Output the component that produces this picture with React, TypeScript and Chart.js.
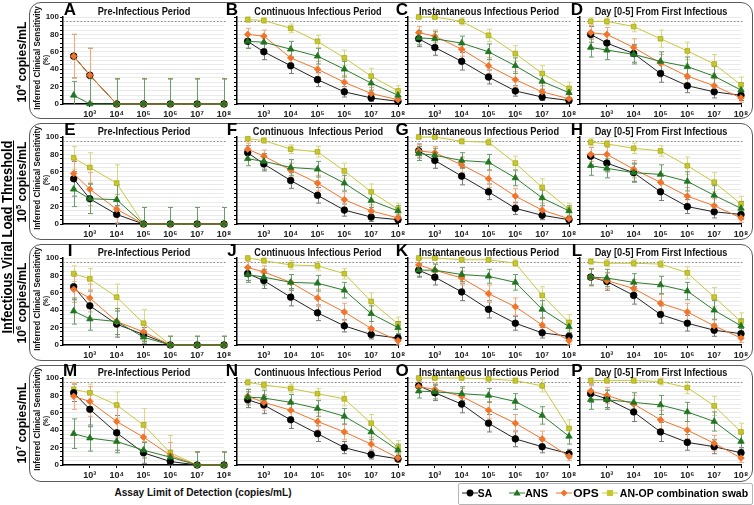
import React, { useEffect, useLayoutEffect, useRef } from 'react';
import { Chart, registerables } from 'chart.js';
Chart.register(...registerables);

// ---------- data ----------
const assayLOD = [250, 1e3, 1e4, 1e5, 1e6, 1e7, 1e8];
const xTickValues = [1e3, 1e4, 1e5, 1e6, 1e7, 1e8];
const xTickLabels = ['10³', '10⁴', '10⁵', '10⁶', '10⁷', '10⁸'];
const yTickLabels = [0, 20, 40, 60, 80, 100];
const seriesNames = ['SA', 'ANS', 'OPS', 'AN-OP combination swab'];
const rowExponents = ['4', '5', '6', '7'];
const periodTitles = [
  'Pre-Infectious Period',
  'Continuous Infectious Period',
  'Instantaneous Infectious Period',
  'Day [0-5] From First Infectious',
];
const panelLetters = ['A', 'B', 'C', 'D', 'E', 'F', 'G', 'H', 'I', 'J', 'K', 'L', 'M', 'N', 'O', 'P'];

// values per panel: [SA, ANS, OPS, AN-OP]
const A_vals = [[55, 33, 0, 0, 0, 0, 0], [10, 0, 0, 0, 0, 0, 0], [55, 33, 0, 0, 0, 0, 0], [55, 33, 0, 0, 0, 0, 0]];
const B_vals = [[72, 60, 44, 28, 14, 7, 3], [72, 71, 63, 55, 40, 24, 10], [80, 78, 53, 40, 25, 12, 5], [97, 96, 87, 72, 53, 32, 15]];
const C_vals = [[75, 65, 49, 31, 15, 8, 4], [76, 75, 70, 60, 44, 26, 13], [82, 78, 63, 44, 28, 14, 6], [100, 100, 95, 79, 58, 35, 18]];
const D_vals = [[80, 70, 58, 35, 21, 14, 10], [65, 62, 57, 49, 43, 32, 16], [82, 80, 65, 47, 32, 21, 7], [95, 95, 89, 75, 61, 46, 22]];
const E_vals = [[52, 29, 11, 0, 0, 0, 0], [40, 29, 28, 0, 0, 0, 0], [58, 40, 17, 0, 0, 0, 0], [76, 65, 47, 0, 0, 0, 0]];
const F_vals = [[82, 69, 50, 33, 16, 8, 5], [75, 72, 65, 63, 47, 27, 15], [86, 78, 62, 47, 28, 15, 7], [98, 96, 86, 83, 61, 37, 17]];
const G_vals = [[84, 73, 55, 37, 18, 10, 5], [81, 79, 73, 71, 53, 30, 15], [84, 82, 68, 52, 32, 16, 6], [100, 100, 95, 94, 70, 42, 17]];
const H_vals = [[78, 70, 59, 37, 20, 14, 11], [67, 64, 59, 57, 49, 33, 18], [80, 80, 63, 48, 32, 21, 7], [94, 92, 87, 84, 67, 48, 23]];
const I_vals = [[67, 45, 24, 12, 0, 0, 0], [39, 30, 27, 9, 0, 0, 0], [64, 54, 27, 15, 0, 0, 0], [82, 76, 55, 25, 0, 0, 0]];
const J_vals = [[82, 74, 55, 37, 22, 12, 8], [81, 78, 72, 71, 63, 36, 20], [89, 84, 72, 54, 38, 19, 5], [100, 97, 92, 91, 82, 50, 24]];
const K_vals = [[86, 78, 61, 41, 25, 14, 10], [86, 86, 81, 79, 72, 41, 21], [92, 86, 77, 59, 44, 23, 5], [100, 100, 98, 98, 94, 57, 26]];
const L_vals = [[78, 73, 57, 35, 25, 17, 13], [78, 77, 72, 69, 62, 40, 22], [78, 74, 65, 48, 38, 22, 8], [96, 94, 94, 93, 83, 55, 27]];
const M_vals = [[83, 64, 37, 14, 4, 0, 0], [36, 31, 27, 17, 9, 0, 0], [79, 73, 50, 32, 11, 0, 0], [87, 83, 69, 46, 14, 0, 0]];
const N_vals = [[75, 69, 52, 36, 20, 12, 7], [78, 77, 72, 65, 56, 38, 17], [79, 72, 63, 50, 38, 24, 8], [95, 92, 88, 82, 76, 48, 20]];
const O_vals = [[91, 83, 70, 48, 30, 21, 13], [85, 84, 82, 80, 73, 57, 33], [90, 87, 79, 63, 48, 30, 10], [100, 100, 100, 99, 97, 91, 42]];
const P_vals = [[82, 76, 61, 38, 26, 21, 14], [75, 75, 72, 69, 61, 50, 27], [85, 80, 70, 52, 40, 25, 8], [97, 97, 97, 96, 89, 68, 38]];

// error half-widths per panel: [SA, ANS, OPS, AN-OP]
const A_errs = [[25, 31, 29, 29, 29, 29, 29], [16, 29, 29, 29, 29, 29, 29], [25, 31, 29, 29, 29, 29, 29], [25, 31, 29, 29, 29, 29, 29]];
const B_errs = [[8, 9, 9, 8, 6, 4, 3], [8, 8, 9, 9, 9, 8, 5], [7, 7, 9, 9, 8, 7, 4], [3, 3, 5, 7, 9, 9, 6]];
const C_errs = [[9, 9, 10, 8, 6, 4, 3], [8, 8, 8, 9, 9, 9, 7], [7, 7, 8, 9, 9, 7, 5], [2, 2, 4, 7, 9, 9, 7]];
const D_errs = [[9, 10, 10, 10, 8, 7, 6], [11, 11, 11, 11, 11, 11, 8], [8, 8, 10, 10, 10, 8, 5], [4, 4, 6, 10, 10, 11, 9]];
const E_errs = [[20, 17, 10, 19, 19, 19, 19], [20, 17, 17, 19, 19, 19, 19], [17, 19, 17, 19, 19, 19, 19], [13, 17, 21, 19, 19, 19, 19]];
const F_errs = [[8, 8, 9, 9, 7, 5, 3], [8, 9, 9, 9, 9, 8, 6], [7, 7, 8, 9, 9, 7, 4], [2, 3, 5, 6, 9, 9, 7]];
const G_errs = [[8, 9, 10, 9, 7, 5, 3], [8, 8, 9, 9, 9, 9, 6], [7, 7, 9, 10, 9, 8, 4], [2, 2, 3, 4, 8, 10, 7]];
const H_errs = [[10, 10, 10, 10, 8, 7, 6], [11, 11, 11, 11, 11, 11, 8], [8, 9, 10, 10, 10, 8, 5], [4, 4, 6, 6, 10, 11, 9]];
const I_errs = [[15, 17, 15, 8, 10, 10, 10], [15, 13, 15, 7, 10, 10, 10], [15, 16, 15, 10, 10, 10, 10], [9, 12, 15, 16, 10, 10, 10]];
const J_errs = [[8, 9, 10, 9, 7, 5, 4], [9, 9, 9, 9, 9, 9, 7], [7, 7, 9, 10, 10, 8, 4], [2, 3, 5, 5, 6, 10, 8]];
const K_errs = [[8, 9, 10, 10, 8, 6, 4], [7, 7, 8, 8, 9, 10, 7], [6, 7, 8, 10, 10, 8, 4], [1, 2, 2, 2, 4, 10, 9]];
const L_errs = [[9, 10, 10, 10, 9, 7, 6], [10, 10, 10, 10, 10, 11, 8], [9, 9, 10, 10, 10, 8, 5], [3, 4, 4, 4, 7, 11, 10]];
const M_errs = [[10, 20, 20, 12, 7, 15, 15], [17, 15, 13, 9, 8, 15, 15], [15, 17, 18, 17, 15, 15, 15], [8, 10, 15, 19, 20, 15, 15]];
const N_errs = [[9, 10, 10, 9, 7, 5, 4], [9, 9, 9, 9, 9, 9, 7], [8, 9, 10, 10, 9, 8, 5], [3, 4, 5, 6, 8, 10, 8]];
const O_errs = [[7, 9, 10, 10, 9, 7, 5], [8, 8, 8, 8, 9, 10, 9], [6, 7, 9, 10, 10, 9, 5], [1, 1, 1, 2, 3, 7, 10]];
const P_errs = [[10, 10, 11, 11, 9, 8, 6], [11, 11, 11, 11, 11, 11, 9], [9, 9, 10, 11, 10, 9, 5], [3, 3, 3, 4, 7, 11, 10]];

const panelVals = [A_vals, B_vals, C_vals, D_vals, E_vals, F_vals, G_vals, H_vals, I_vals, J_vals, K_vals, L_vals, M_vals, N_vals, O_vals, P_vals];
const panelErrs = [A_errs, B_errs, C_errs, D_errs, E_errs, F_errs, G_errs, H_errs, I_errs, J_errs, K_errs, L_errs, M_errs, N_errs, O_errs, P_errs];

// ---------- styling ----------
const seriesStyle = [
  { color: '#000000', line: '#222222', err: '#7a7a7a', shape: 'circle', r: 3.3 },
  { color: '#217521', line: '#2e7d2e', err: '#6a9d6a', shape: 'triangle', r: 3.7 },
  { color: '#f0742a', line: '#f0742a', err: '#f3a678', shape: 'rectRot', r: 3.3 },
  { color: '#c8c82a', line: '#c8c83a', err: '#d8d883', shape: 'rect', r: 3.3 },
];
const drawOrder = [1, 2, 0, 3]; // first drawn on top in Chart.js

const SANS = "'Liberation Sans', Arial, sans-serif";

const colPlotLeft = [63, 237, 408, 580];
const rowPlotTop = [17, 137, 258, 378];
const plotW = 161;
const plotH = 87;
const rowBoxTop = [2, 123, 244, 365];
const titleWidths = [93, 127, 140, 133];

const errorBarPlugin = {
  id: 'errbars',
  beforeDatasetsDraw(chart: any) {
    const { ctx, chartArea } = chart;
    const y = chart.scales.y;
    ctx.save();
    ctx.setLineDash([1.5, 2]);
    ctx.strokeStyle = '#8a8a8a';
    ctx.lineWidth = 1;
    const yy = Math.round(y.getPixelForValue(95)) + 0.5;
    ctx.beginPath();
    ctx.moveTo(chartArea.left, yy);
    ctx.lineTo(chartArea.right + 3, yy);
    ctx.stroke();
    ctx.setLineDash([]);
    for (let i = chart.data.datasets.length - 1; i >= 0; i--) {
      const ds = chart.data.datasets[i];
      const meta = chart.getDatasetMeta(i);
      ctx.strokeStyle = ds.errColor;
      ctx.lineWidth = 1;
      meta.data.forEach((el: any, j: number) => {
        const v = ds.data[j].y;
        const e = ds.errs[j];
        const lo = Math.max(0, v - e);
        const hi = Math.min(100, v + e);
        const x = Math.round(el.x) + 0.5;
        const y1 = y.getPixelForValue(lo);
        const y2 = y.getPixelForValue(hi);
        ctx.beginPath();
        ctx.moveTo(x, y1);
        ctx.lineTo(x, y2);
        ctx.moveTo(x - 2.5, y2);
        ctx.lineTo(x + 2.5, y2);
        if (lo > 0) {
          ctx.moveTo(x - 2.5, y1);
          ctx.lineTo(x + 2.5, y1);
        }
        ctx.stroke();
      });
    }
    ctx.restore();
  },
};

function Panel({ idx }: { idx: number }) {
  const ref = useRef<HTMLCanvasElement>(null);
  const r = Math.floor(idx / 4);
  const c = idx % 4;
  const yw = c === 0 ? 34 : 8;
  const padTop = 6;
  const padRight = 10;
  const xh = 18;
  const cw = yw + plotW + padRight;
  const ch = padTop + plotH + xh;
  const left = colPlotLeft[c] - yw;
  const top = rowPlotTop[r] - padTop;

  useEffect(() => {
    const vals = panelVals[idx];
    const errs = panelErrs[idx];
    const datasets = drawOrder.map((s) => {
      const st = seriesStyle[s];
      return {
        label: seriesNames[s],
        data: assayLOD.map((x, j) => ({ x, y: vals[s][j] })),
        errs: errs[s],
        errColor: st.err,
        borderColor: st.line,
        backgroundColor: st.color,
        pointBackgroundColor: st.color,
        pointBorderColor: s === 3 ? '#a9a91c' : st.color,
        pointBorderWidth: 0.8,
        pointStyle: st.shape,
        pointRadius: st.r,
        borderWidth: 1,
        tension: 0,
        clip: false,
      } as any;
    });
    const chart = new Chart(ref.current as HTMLCanvasElement, {
      type: 'line',
      data: { datasets },
      options: {
        animation: false,
        responsive: false,
        maintainAspectRatio: false,
        devicePixelRatio: 1,
        layout: { padding: { top: padTop, right: padRight, left: 0, bottom: 0 } },
        plugins: { legend: { display: false }, tooltip: { enabled: false }, title: { display: false } },
        scales: {
          x: {
            type: 'logarithmic',
            min: 100,
            max: 1e8,
            afterBuildTicks: (axis: any) => {
              axis.ticks = xTickValues.map((v) => ({ value: v }));
            },
            afterFit: (axis: any) => {
              axis.height = xh;
            },
            ticks: {
              autoSkip: false,
              maxRotation: 0,
              padding: 2,
              color: '#222',
              font: { family: SANS, size: 9, weight: 'bold' },
              callback: (_v: any, i: number) => xTickLabels[i],
            },
            grid: { drawOnChartArea: false, drawTicks: true, tickLength: 3, tickColor: '#000', tickWidth: 1 },
            border: { color: '#000', width: 1.5 },
          },
          y: {
            type: 'linear',
            min: 0,
            max: 100,
            afterFit: (axis: any) => {
              axis.width = yw;
            },
            ticks: {
              stepSize: 5,
              autoSkip: false,
              padding: 1,
              color: '#222',
              font: { family: SANS, size: 8, weight: 'bold' },
              callback: (v: any) => (c === 0 && yTickLabels.includes(v) ? String(v) : ''),
            },
            grid: { color: '#e4e4e4', lineWidth: 0.8, drawTicks: true, tickLength: 3, tickColor: '#000', tickWidth: 1 },
            border: { color: '#000', width: 1.5 },
          },
        },
      } as any,
      plugins: [errorBarPlugin],
    });
    return () => chart.destroy();
  }, [idx]);

  return (
    <canvas
      ref={ref}
      width={cw}
      height={ch}
      style={{ position: 'absolute', left, top, width: cw, height: ch }}
    />
  );
}

const abs = (o: any) => ({ position: 'absolute', whiteSpace: 'pre', ...o } as React.CSSProperties);

// text squeezed horizontally to a target width (narrow, Calibri-like look)
function Fit({ x, y, w, rot, style, children }: any) {
  const ref = useRef<HTMLDivElement>(null);
  useLayoutEffect(() => {
    const el = ref.current;
    if (!el) return;
    const nat = el.offsetWidth || 1;
    const s = w / nat;
    el.style.transform = `translate(-50%, -50%) ${rot ? 'rotate(-90deg) ' : ''}scaleX(${s})`;
  }, [w, rot]);
  return (
    <div ref={ref} style={abs({ left: x, top: y, lineHeight: 1, transform: 'translate(-50%, -50%)', ...style })}>
      {children}
    </div>
  );
}

function LegendMarker({ s }: { s: number }) {
  const st = seriesStyle[s];
  let shape: any = null;
  if (s === 0) shape = <circle cx={9} cy={6} r={3.4} fill={st.color} />;
  if (s === 1) shape = <polygon points="9,2.2 12.6,8.6 5.4,8.6" fill={st.color} />;
  if (s === 2) shape = <polygon points="9,2.4 12.4,6 9,9.6 5.6,6" fill={st.color} />;
  if (s === 3) shape = <rect x={6} y={3} width={6} height={6} fill={st.color} />;
  return (
    <svg width={18} height={12} style={{ display: 'block' }}>
      <line x1={1} y1={6} x2={17} y2={6} stroke={st.line} strokeWidth={1} />
      {shape}
    </svg>
  );
}

export default function App() {
  const legendX = [461, 508, 555, 601];
  const legendTextX = [478, 525, 573, 620];
  const legendTextW = [14, 23, 25, 128];
  return (
    <div style={{ position: 'absolute', left: 0, top: 0, width: 754, height: 505, background: '#fff', overflow: 'hidden' }}>
      {rowBoxTop.map((t, r) => (
        <div key={'box' + r} style={abs({ left: 29, top: t, width: 722, height: 115, border: '1px solid #5a5a5a', borderRadius: 12 })} />
      ))}
      {panelLetters.map((_, i) => (
        <Panel key={'p' + i} idx={i} />
      ))}
      {panelLetters.map((L, i) => {
        const r = Math.floor(i / 4);
        const c = i % 4;
        const lx = [70, 232, 402, 577][c];
        return (
          <div key={'L' + i} style={abs({ left: lx, top: rowPlotTop[r] - 7, lineHeight: 1, transform: 'translate(-50%, -50%)', font: `bold 17px ${SANS}`, color: '#000' })}>
            {L}
          </div>
        );
      })}
      {panelLetters.map((_, i) => {
        const r = Math.floor(i / 4);
        const c = i % 4;
        const t = i === 5 ? 'Continuous  Infectious Period' : periodTitles[c];
        return (
          <Fit key={'T' + i} x={colPlotLeft[c] + plotW / 2} y={rowPlotTop[r] - 6} w={titleWidths[c] + (i === 5 ? 3 : 0)} style={{ font: `bold 10.5px ${SANS}`, color: '#111' }}>
            {t}
          </Fit>
        );
      })}
      {rowPlotTop.map((t, r) => (
        <React.Fragment key={'yl' + r}>
          <Fit x={37} y={t + 41} w={104} rot style={{ font: `bold 9px ${SANS}`, color: '#111' }}>
            Inferred Clinical Sensitivity
          </Fit>
          <Fit x={45} y={t + 43} w={10} rot style={{ font: `bold 6.5px ${SANS}`, color: '#111' }}>
            (%)
          </Fit>
          <Fit x={21} y={t + 45} w={81} rot style={{ font: `bold 13px ${SANS}`, color: '#000' }}>
            <span>10</span>
            <span style={{ fontSize: 8, verticalAlign: 5 }}>{rowExponents[r]}</span>
            <span> copies/mL</span>
          </Fit>
        </React.Fragment>
      ))}
      <Fit x={7} y={237} w={193} rot style={{ font: `bold 14px ${SANS}`, color: '#000', textDecoration: 'underline' }}>
        Infectious Viral Load Threshold
      </Fit>
      <Fit x={203} y={492} w={177} style={{ font: `bold 11px ${SANS}`, color: '#111' }}>
        Assay Limit of Detection (copies/mL)
      </Fit>
      <div style={abs({ left: 458, top: 483, width: 293, height: 20, border: '1px solid #b5b5b5', borderRadius: 2 })} />
      {seriesNames.map((n, s) => (
        <React.Fragment key={'lg' + s}>
          <div style={abs({ left: legendX[s], top: 487 })}>
            <LegendMarker s={s} />
          </div>
          <Fit x={legendTextX[s] + legendTextW[s] / 2} y={493} w={legendTextW[s]} style={{ font: `bold 11px ${SANS}`, color: '#000' }}>
            {n}
          </Fit>
        </React.Fragment>
      ))}
    </div>
  );
}
